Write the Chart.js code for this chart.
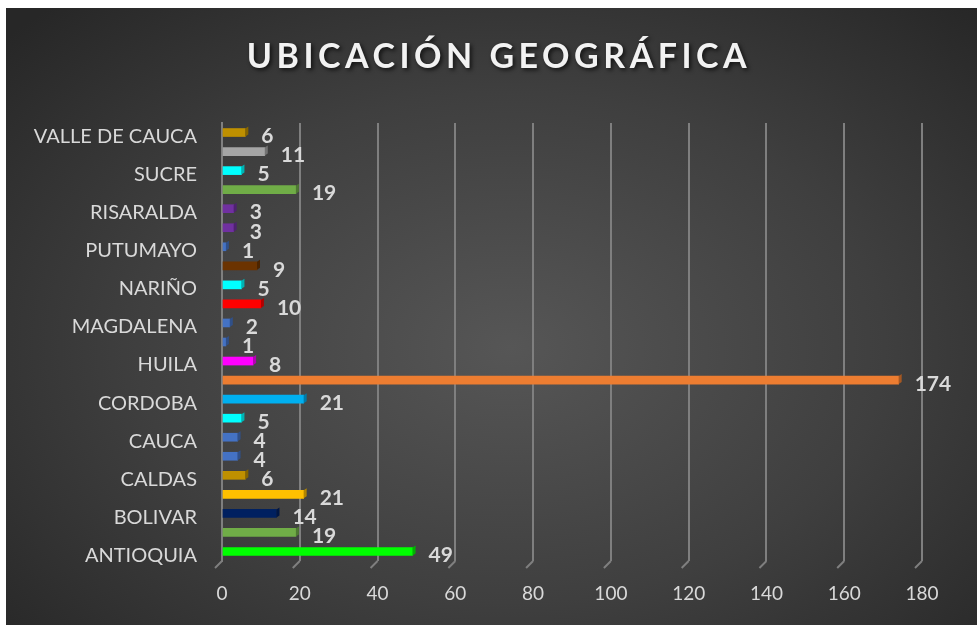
<!doctype html>
<html lang="es">
<head>
<meta charset="utf-8" />
<title>Ubicación geográfica</title>
<script src="https://cdn.jsdelivr.net/npm/chart.js@4.4.4/dist/chart.umd.min.js"></script>
<style>
  html, body { margin: 0; background: #fff; }
  .wrap {
    position: absolute; left: 6px; top: 8px; width: 971px; height: 617px;
    background: radial-gradient(ellipse 70% 75% at 52% 55%, #565656 0%, #3f3f3f 55%, #272727 100%);
  }
</style>
</head>
<body>
<div class="wrap"><canvas id="c"></canvas></div>
<script>
// rows bottom -> top, like the sheet; rows with "" had their label skipped by Excel
const title = "UBICACIÓN GEOGRÁFICA";
const labels = ["ANTIOQUIA", "", "BOLIVAR", "", "CALDAS", "", "CAUCA", "", "CORDOBA", "", "HUILA", "",
  "MAGDALENA", "", "NARIÑO", "", "PUTUMAYO", "", "RISARALDA", "", "SUCRE", "", "VALLE DE CAUCA"];
const values = [49, 19, 14, 21, 6, 4, 4, 5, 21, 174, 8, 1, 2, 10, 5, 9, 1, 3, 3, 19, 5, 11, 6];
const colors = ["#00ff00", "#70ad47", "#002060", "#ffc000", "#bf9000", "#4472c4", "#4472c4", "#00ffff",
  "#00b0f0", "#ed7d31", "#ff00ff", "#4472c4", "#4472c4", "#ff0000", "#00ffff", "#6b3300",
  "#4472c4", "#7030a0", "#7030a0", "#70ad47", "#00ffff", "#a5a5a5", "#bf9000"];
const xMin = 0, xMax = 180, xStep = 20;

const TEXT = "#d9d9d9";
const GRID = "#7f7f7f";

function shade(hex, f) {
  const n = parseInt(hex.slice(1), 16);
  const r = Math.round(((n >> 16) & 255) * f), g = Math.round(((n >> 8) & 255) * f), b = Math.round((n & 255) * f);
  return `rgb(${r},${g},${b})`;
}

// little 3D side on each bar, then the value labels
const barDecor = {
  id: "barDecor",
  afterDatasetsDraw(chart) {
    const { ctx } = chart;
    const meta = chart.getDatasetMeta(0);
    ctx.save();
    meta.data.forEach((bar, i) => {
      const h = bar.height, top = bar.y - h / 2, d = 3;
      ctx.fillStyle = shade(colors[i], 0.7);
      ctx.beginPath();
      ctx.moveTo(bar.x, top);
      ctx.lineTo(bar.x + d, top - 2);
      ctx.lineTo(bar.x + d, top + h - 2);
      ctx.lineTo(bar.x, top + h);
      ctx.closePath();
      ctx.fill();
    });
    ctx.font = "bold 21px Lato";
    ctx.fillStyle = TEXT;
    ctx.textAlign = "left";
    ctx.textBaseline = "middle";
    meta.data.forEach((bar, i) => {
      ctx.fillText(String(values[i]), bar.x + 16, bar.y + 4);
    });
    ctx.restore();
  },
};

// title with letter spacing + shadow, and the slanted feet of the grid lines
const decor = {
  id: "decor",
  afterDraw(chart) {
    const { ctx, chartArea, scales } = chart;
    ctx.save();
    ctx.strokeStyle = GRID;
    ctx.lineWidth = 2;
    for (let v = xMin; v <= xMax; v += xStep) {
      const px = scales.x.getPixelForValue(v);
      ctx.beginPath();
      ctx.moveTo(px, chartArea.bottom);
      ctx.lineTo(px - 7, chartArea.bottom + 7);
      ctx.stroke();
    }
    ctx.font = "bold 34px Lato";
    ctx.letterSpacing = "4.5px";
    ctx.textAlign = "center";
    ctx.textBaseline = "alphabetic";
    ctx.shadowColor = "rgba(0,0,0,0.7)";
    ctx.shadowBlur = 4;
    ctx.shadowOffsetX = 2;
    ctx.shadowOffsetY = 2;
    ctx.fillStyle = "#f2f2f2";
    ctx.fillText(title, 493, 60);
    ctx.restore();
  },
};

new Chart(document.getElementById("c"), {
  type: "bar",
  data: {
    labels,
    datasets: [{ data: values, backgroundColor: colors, borderWidth: 0, barThickness: 8 }],
  },
  options: {
    indexAxis: "y",
    animation: false,
    responsive: true,
    maintainAspectRatio: false,
    layout: { padding: { top: 115, right: 55, bottom: 0, left: 0 } },
    plugins: { legend: { display: false }, tooltip: { enabled: false } },
    scales: {
      x: {
        min: xMin,
        max: xMax,
        ticks: { stepSize: xStep, color: TEXT, font: { family: "Lato", size: 19 }, padding: 21 },
        grid: { color: GRID, lineWidth: 2, drawTicks: false },
        border: { display: false },
        afterFit: (s) => { s.height = 64; },
      },
      y: {
        reverse: true,
        ticks: { autoSkip: false, color: TEXT, font: { family: "Lato", size: 20 }, padding: 17, labelOffset: 4 },
        grid: { display: false },
        border: { color: GRID, width: 2 },
        afterFit: (s) => { s.width = 216; },
      },
    },
  },
  plugins: [barDecor, decor],
});
</script>
</body>
</html>
